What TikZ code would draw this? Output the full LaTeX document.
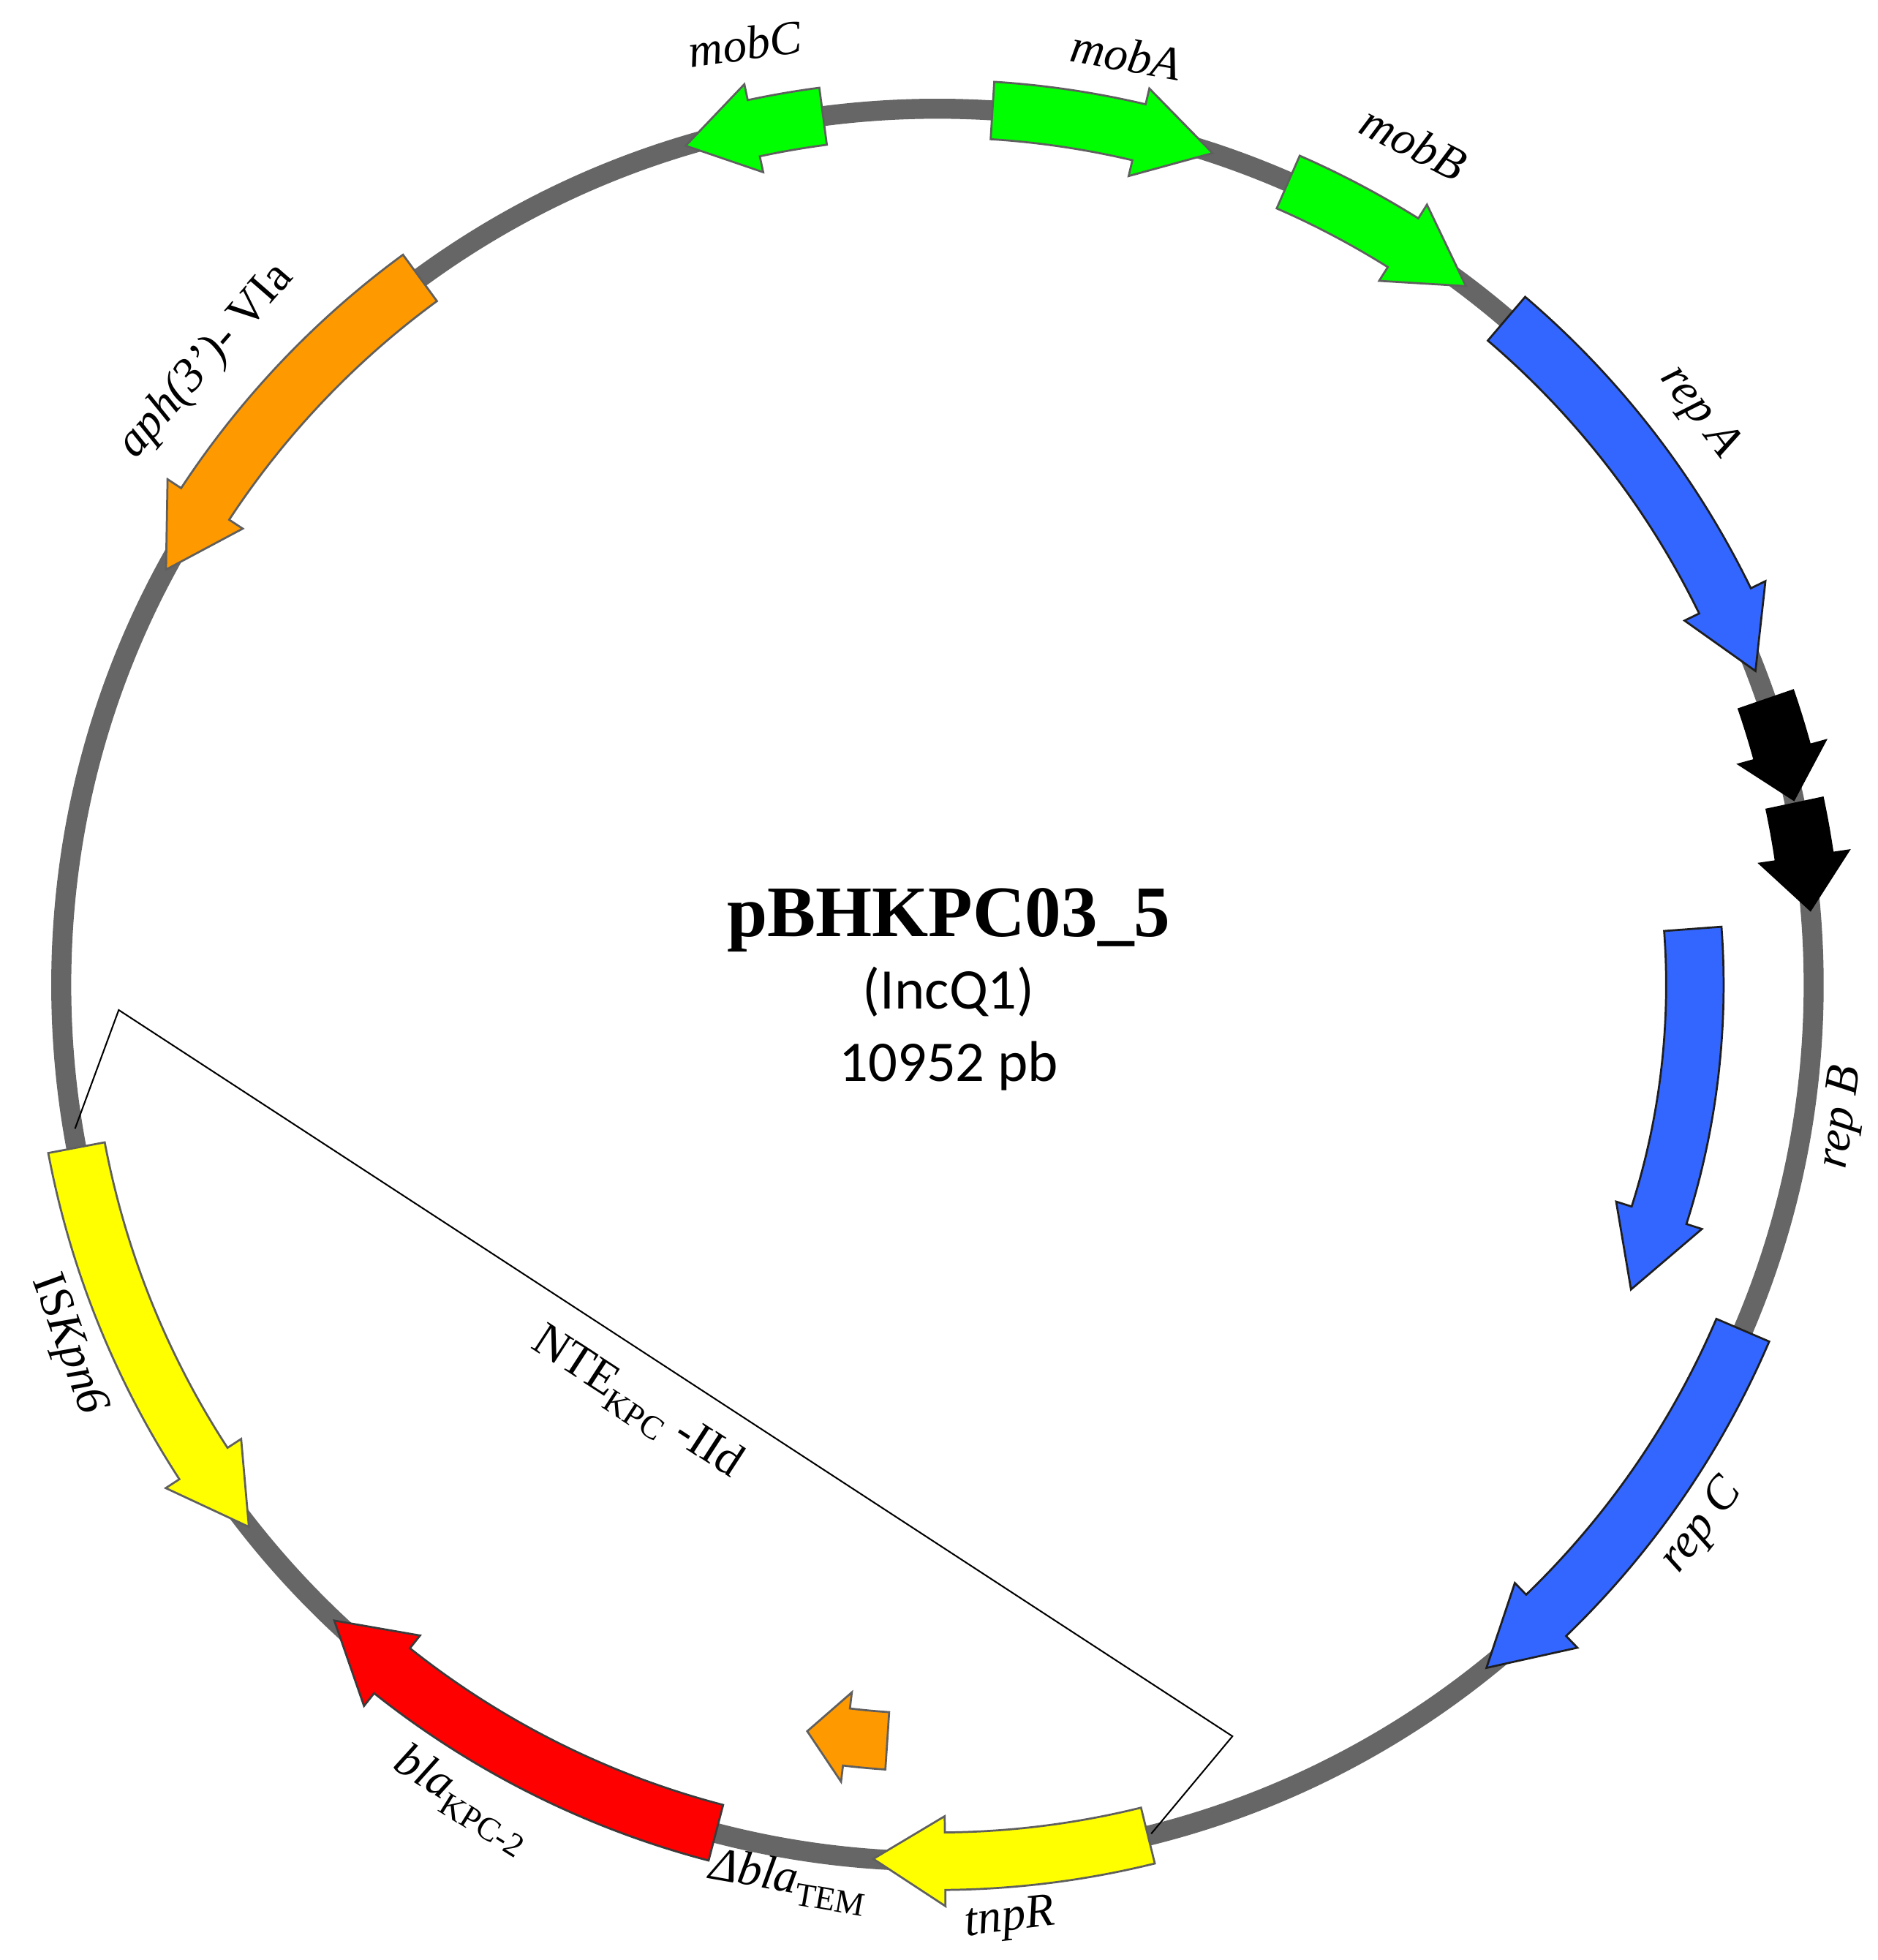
\documentclass[tikz,border=0pt]{standalone}
\usepackage{fontspec}
\setmainfont{Liberation Serif}
\newfontfamily\calfont{Carlito}
\definecolor{ringgrey}{RGB}{102,102,102}
\definecolor{ggreen}{RGB}{0,255,0}
\definecolor{gblue}{RGB}{51,102,255}
\definecolor{gorange}{RGB}{255,153,0}
\definecolor{gyellow}{RGB}{255,255,0}
\definecolor{gred}{RGB}{255,0,0}
\definecolor{edgegrey}{RGB}{95,95,95}
\definecolor{edgedark}{RGB}{30,30,30}
\newcommand{\gene}[5]{%
  \pgfmathsetmacro{\gnS}{(#4>#3)?1:-1}%
  \pgfmathsetmacro{\gnC}{#4-\gnS*#5}%
  \pgfmathsetmacro{\gnRo}{#2+23}%
  \pgfmathsetmacro{\gnRi}{#2-23}%
  \pgfmathsetmacro{\gnHo}{#2+36}%
  \pgfmathsetmacro{\gnHi}{#2-36}%
  \draw[#1] (#3:\gnRo pt) arc[start angle=#3, end angle=\gnC, radius=\gnRo pt]
    -- (\gnC:\gnHo pt) -- (#4:#2pt) -- (\gnC:\gnHi pt) -- (\gnC:\gnRi pt)
    arc[start angle=\gnC, end angle=#3, radius=\gnRi pt] -- cycle;%
}
\begin{document}
\begin{tikzpicture}[x=1pt,y=1pt,
  ring/.style={draw=ringgrey, line width=16pt},
  gbase/.style={line width=1.6pt, line join=miter},
  greengene/.style={gbase, fill=ggreen, draw=edgegrey},
  bluegene/.style={gbase, fill=gblue, draw=edgedark},
  orangegene/.style={gbase, fill=gorange, draw=edgegrey},
  yellowgene/.style={gbase, fill=gyellow, draw=edgegrey},
  redgene/.style={gbase, fill=gred, draw=edgedark!70!gray},
  blackgene/.style={gbase, fill=black, draw=black},
  bracketline/.style={draw=black, line width=1.2pt},
  lab/.style={font=\fontsize{38}{44}\selectfont\itshape, inner sep=0pt},
  uplab/.style={font=\fontsize{38}{44}\selectfont, inner sep=0pt},
  title/.style={font=\fontsize{58}{64}\selectfont\bfseries, inner sep=0pt, anchor=base},
  sub/.style={font=\fontsize{46}{52}\selectfont\calfont, inner sep=0pt, anchor=base}
]
\useasboundingbox (-750,-780) rectangle (752,788);

% backbone
\draw[ring] (0,0) circle[radius=701pt];

% genes on the backbone
\gene{greengene}{701}{97.5}{106.7}{4.6}
\gene{greengene}{701}{86.4}{71.7}{5.0}
\gene{greengene}{701}{66.4}{52.9}{5.0}
\gene{bluegene}{701}{49.5}{21.0}{5.0}
\gene{blackgene}{701}{19.0}{12.2}{3.2}
\gene{blackgene}{701}{11.95}{4.9}{3.5}
\gene{bluegene}{701}{-23.2}{-51.2}{5.2}
\gene{yellowgene}{701}{-76.1}{-94.2}{4.7}
\gene{redgene}{701}{-104.65}{-133.5}{5.0}
\gene{yellowgene}{701}{190.7}{218.2}{5.1}
\gene{orangegene}{701}{126.2}{151.7}{5.0}

% inner genes
\gene{bluegene}{606}{4.25}{-23.7}{6.0}
\gene{orangegene}{606}{-93.8}{-99.9}{3.0}

% NTE bracket
\coordinate (b1) at (-690,-115);
\coordinate (b2) at (-655,-20);
\coordinate (b3) at (236,-601);
\coordinate (b4) at (171,-679);
\draw[bracketline] (b1) -- (b2) -- (b3) -- (b4);

% labels
\node[lab, rotate=8] (lmobC) at (-154,753) {mobC};
\node[lab, rotate=-10] (lmobA) at (151,744) {mobA};
\node[lab, rotate=-27] (lmobB) at (381,674) {mobB};
\node[lab, rotate=-53] (lrepA) at (609,458) {rep A};
\node[lab, rotate=82] (lrepB) at (724,-106) {rep B};
\node[lab, rotate=52] (lrepC) at (612,-433) {rep C};
\node[lab, rotate=7] (ltnpR) at (58,-748) {tnpR};
\node[lab, rotate=-10] (ldbla) at (-119,-717) {Δbla\textsubscript{\upshape TEM}};
\node[lab, rotate=-32] (lkpc) at (-380,-652) {bla\textsubscript{\upshape KPC-2}};
\node[uplab, rotate=-70] (lisk) at (-696,-288) {IS\textit{Kpn6}};
\node[uplab, rotate=49] (laph) at (-585,499) {\textit{aph(3’)}- VIa};
\node[uplab, rotate=-33] (lnte) at (-241,-335) {NTE\textsubscript{KPC} -IId};

% centre text
\node[title] (ttl) at (9,39) {pBHKPC03\_5};
\node[sub] (tinc) at (9,-19) {(IncQ1)};
\node[sub] (tlen) at (9,-77) {10952 pb};
\end{tikzpicture}
\end{document}
